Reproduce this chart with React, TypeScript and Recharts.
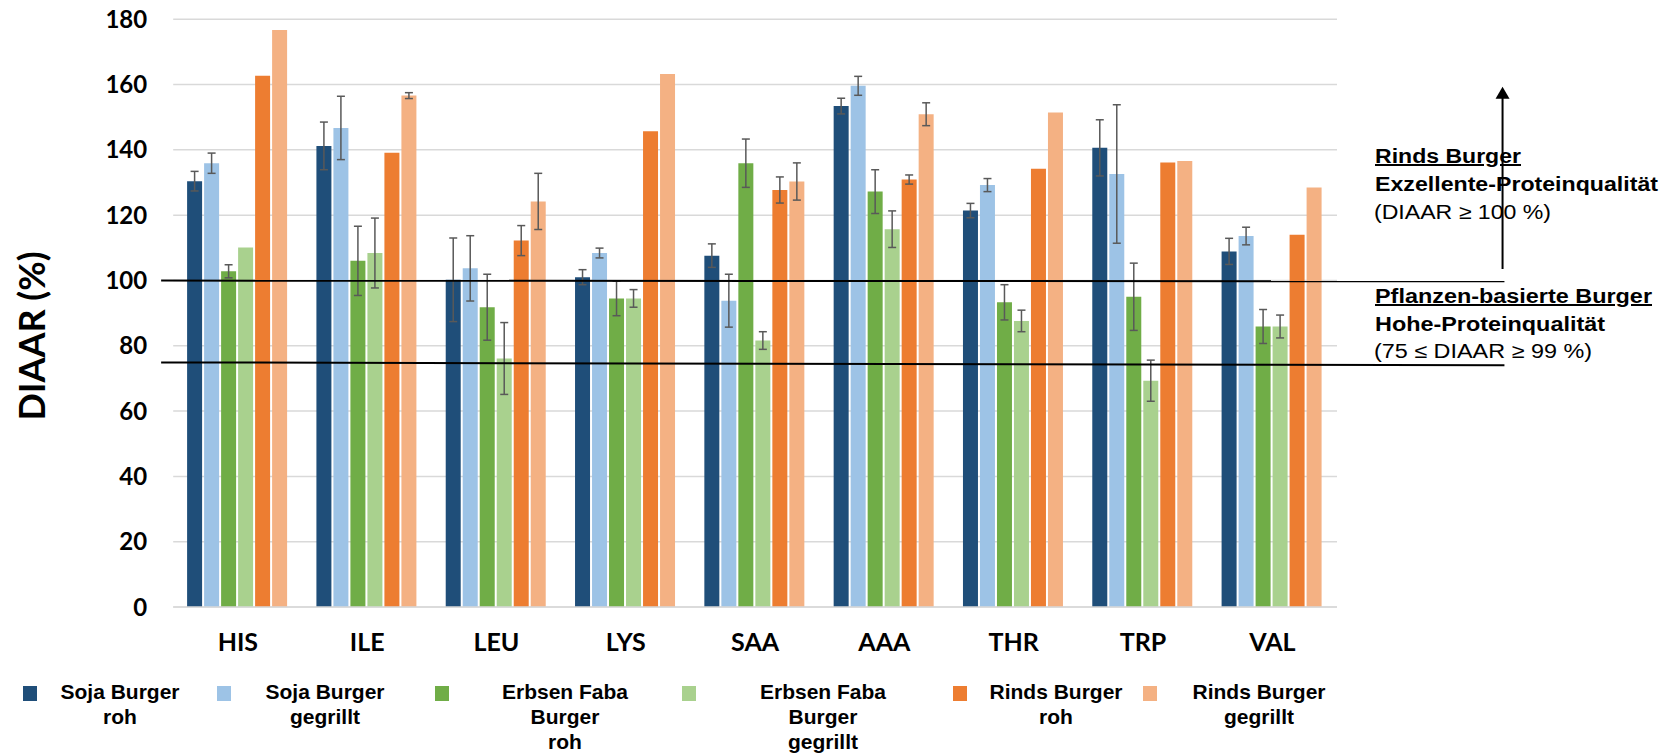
import React from 'react';
import {
  BarChart,
  Bar,
  XAxis,
  YAxis,
  CartesianGrid,
  ErrorBar,
  ReferenceLine,
  Legend,
} from 'recharts';

// Amino acids on the x axis
const CATEGORIES = ['HIS', 'ILE', 'LEU', 'LYS', 'SAA', 'AAA', 'THR', 'TRP', 'VAL'];

// DIAAR (%) means and standard deviations per burger type
const SOJA_ROH = [130.4, 141.2, 100.2, 101.0, 107.6, 153.4, 121.4, 140.6, 108.9];
const SOJA_ROH_SD = [3.0, 7.3, 12.8, 2.3, 3.6, 2.4, 2.2, 8.6, 4.0];
const SOJA_GRILL = [135.9, 146.7, 103.7, 108.4, 93.8, 159.6, 129.2, 132.6, 113.6];
const SOJA_GRILL_SD = [3.1, 9.7, 10.0, 1.5, 8.1, 2.9, 2.0, 21.2, 2.7];
const ERBSEN_ROH = [102.8, 106.0, 91.8, 94.5, 135.9, 127.2, 93.3, 95.0, 85.9];
const ERBSEN_ROH_SD = [2.0, 10.6, 10.1, 5.3, 7.4, 6.7, 5.4, 10.3, 5.2];
const ERBSEN_GRILL = [110.1, 108.4, 76.1, 94.5, 81.6, 115.7, 87.6, 69.3, 85.9];
const ERBSEN_GRILL_SD = [0, 10.7, 11.0, 2.7, 2.7, 5.6, 3.3, 6.3, 3.5];
const RINDS_ROH = [162.7, 139.1, 112.2, 145.7, 127.7, 130.9, 134.2, 136.1, 114.0];
const RINDS_ROH_SD = [0, 0, 4.6, 0, 4.0, 1.4, 0, 0, 0];
const RINDS_GRILL = [176.7, 156.6, 124.2, 163.2, 130.3, 150.9, 151.4, 136.6, 128.5];
const RINDS_GRILL_SD = [0, 0.9, 8.6, 0, 5.7, 3.5, 0, 0, 0];

const Y_TICKS = [0, 20, 40, 60, 80, 100, 120, 140, 160, 180];

// Quality thresholds (drawn slightly tilted, as in the original figure)
const EXCELLENT_LINE = [99.95, 99.75];
const HIGH_LINE = [74.9, 74.0];
const ARROW_RANGE = [103.5, 159.3];

const SERIES = [
  { name: 'Soja Burger\nroh', values: SOJA_ROH, sd: SOJA_ROH_SD, color: '#1F4E79' },
  { name: 'Soja Burger\ngegrillt', values: SOJA_GRILL, sd: SOJA_GRILL_SD, color: '#9DC3E6' },
  { name: 'Erbsen Faba\nBurger\nroh', values: ERBSEN_ROH, sd: ERBSEN_ROH_SD, color: '#70AD47' },
  { name: 'Erbsen Faba\nBurger\ngegrillt', values: ERBSEN_GRILL, sd: ERBSEN_GRILL_SD, color: '#A9D18E' },
  { name: 'Rinds Burger\nroh', values: RINDS_ROH, sd: RINDS_ROH_SD, color: '#ED7D31' },
  { name: 'Rinds Burger\ngegrillt', values: RINDS_GRILL, sd: RINDS_GRILL_SD, color: '#F4B183' },
];

const data = CATEGORIES.map((name, i) => {
  const row: Record<string, string | number> = { name };
  SERIES.forEach((s, k) => {
    row[`v${k}`] = s.values[i];
    row[`e${k}`] = s.sd[i];
  });
  return row;
});

// legend layout: swatch left edges and text centres
const LEGEND_SWATCH_X = [23, 217, 435, 682, 953, 1143];
const LEGEND_TEXT_X = [120, 325, 565, 823, 1056, 1259];

const seriesIndex = (value: string) => SERIES.findIndex((s) => s.name === value);

const renderLegend = ({ payload }: any) => {
  // keep the series order instead of the legend's alphabetical sort
  const items = [...(payload || [])].sort(
    (a: any, b: any) => seriesIndex(String(a.value)) - seriesIndex(String(b.value))
  );
  return (
    <div style={{ position: 'relative', width: 1675, height: 74 }}>
      {items.map((entry: any, i: number) => (
        <React.Fragment key={i}>
          <div
            style={{
              position: 'absolute',
              left: LEGEND_SWATCH_X[i],
              top: 7,
              width: 14,
              height: 15,
              background: entry.color,
            }}
          />
          <div
            style={{
              position: 'absolute',
              left: LEGEND_TEXT_X[i] - 100,
              top: 0,
              width: 200,
              textAlign: 'center',
              fontFamily: '"Liberation Sans", Arial, sans-serif',
              fontWeight: 700,
              fontSize: 21,
              lineHeight: '25px',
              color: '#000',
            }}
          >
            {String(entry.value)
              .split('\n')
              .map((line, j) => (
                <div key={j}>{line}</div>
              ))}
          </div>
        </React.Fragment>
      ))}
    </div>
  );
};

const Arrow = (p: any) => (
  <g>
    <line x1={p.x1} y1={p.y1} x2={p.x2} y2={p.y2 + 10} stroke="#000" strokeWidth={2} />
    <polygon
      points={`${p.x2},${p.y2} ${p.x2 - 7},${p.y2 + 12} ${p.x2 + 7},${p.y2 + 12}`}
      fill="#000"
    />
  </g>
);

const annoFont = '"Liberation Sans", Arial, sans-serif';

export default function App() {
  return (
    <div style={{ position: 'absolute', left: 0, top: 0, width: 1675, height: 753, background: '#fff' }}>
      <BarChart
        width={1675}
        height={753}
        data={data}
        margin={{ top: 19.2, right: 338, bottom: 116, left: 113.2 }}
        barCategoryGap="10.75%"
        barGap={2}
      >
        <CartesianGrid vertical={false} stroke="#d9d9d9" strokeWidth={1.5} />
        <XAxis
          dataKey="name"
          height={30}
          tickLine={false}
          axisLine={{ stroke: '#d9d9d9', strokeWidth: 1.5 }}
          tickSize={0}
          tickMargin={26}
          interval={0}
          tick={{ fontFamily: 'Lato', fontWeight: 700, fontSize: 25, fill: '#000' }}
        />
        <XAxis xAxisId="pos" type="number" domain={[0, 9]} allowDataOverflow hide />
        <YAxis
          width={60}
          domain={[0, 180]}
          ticks={Y_TICKS}
          interval={0}
          tickLine={false}
          axisLine={false}
          tickSize={0}
          tickMargin={26}
          tick={{ fontFamily: 'Lato', fontWeight: 700, fontSize: 24, fill: '#000' }}
        />
        {SERIES.map((s, k) => (
          <Bar key={k} dataKey={`v${k}`} name={s.name} fill={s.color} isAnimationActive={false}>
            <ErrorBar
              dataKey={`e${k}`}
              direction="y"
              width={4}
              stroke="#595959"
              strokeWidth={1.5}
              isAnimationActive={false}
            />
          </Bar>
        ))}
        <ReferenceLine
          xAxisId="pos"
          ifOverflow="visible"
          segment={[
            { x: -0.083, y: EXCELLENT_LINE[0] },
            { x: 9.151, y: EXCELLENT_LINE[1] },
          ]}
          stroke="#000"
          strokeWidth={2}
        />
        <ReferenceLine
          xAxisId="pos"
          ifOverflow="visible"
          segment={[
            { x: -0.083, y: HIGH_LINE[0] },
            { x: 9.151, y: HIGH_LINE[1] },
          ]}
          stroke="#000"
          strokeWidth={2}
        />
        <ReferenceLine
          xAxisId="pos"
          ifOverflow="visible"
          segment={[
            { x: 9.138, y: ARROW_RANGE[0] },
            { x: 9.138, y: ARROW_RANGE[1] },
          ]}
          shape={Arrow}
        />
        <Legend
          verticalAlign="middle"
          align="center"
          wrapperStyle={{ left: 0, top: 679, width: 1675, height: 74 }}
          content={renderLegend}
        />
      </BarChart>

      <svg
        width={1675}
        height={753}
        style={{ position: 'absolute', left: 0, top: 0, pointerEvents: 'none' }}
      >
        <text
          x={45}
          y={336}
          transform="rotate(-90 45 336)"
          textAnchor="middle"
          fontFamily="Lato"
          fontWeight={700}
          fontSize={36}
          fill="#000"
        >
          DIAAR (%)
        </text>

        <g fontFamily={annoFont} fontSize={20} fill="#000">
          <text x={1375} y={163} fontWeight={700} textDecoration="underline" textLength={146} lengthAdjust="spacingAndGlyphs">
            Rinds Burger
          </text>
          <text x={1375} y={191} fontWeight={700} textLength={283} lengthAdjust="spacingAndGlyphs">
            Exzellente-Proteinqualität
          </text>
          <text x={1374} y={218.5} textLength={177} lengthAdjust="spacingAndGlyphs">
            (DIAAR ≥ 100 %)
          </text>
          <text x={1375} y={303} fontWeight={700} textDecoration="underline" textLength={277} lengthAdjust="spacingAndGlyphs">
            Pflanzen-basierte Burger
          </text>
          <text x={1375} y={330.5} fontWeight={700} textLength={230} lengthAdjust="spacingAndGlyphs">
            Hohe-Proteinqualität
          </text>
          <text x={1374} y={358} textLength={218} lengthAdjust="spacingAndGlyphs">
            (75 ≤ DIAAR ≥ 99 %)
          </text>
        </g>
      </svg>
    </div>
  );
}
